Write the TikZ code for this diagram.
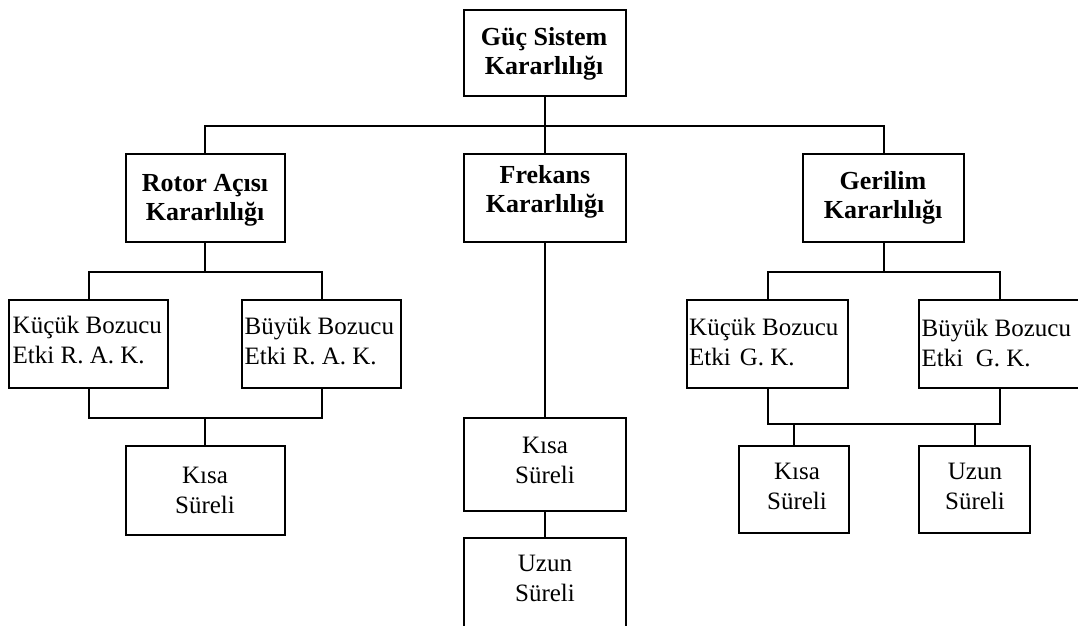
\documentclass[tikz,border=0pt]{standalone}
\usepackage{fontspec}
\setmainfont{Liberation Serif}
\begin{document}
\begin{tikzpicture}[x=1pt,y=-1pt,
  box/.style={draw, rectangle, inner sep=0pt, line width=2pt},
  bt/.style={font=\bfseries\fontsize{26}{29}\selectfont, align=center, inner sep=0pt},
  rt/.style={font=\fontsize{25}{30}\selectfont, align=center, inner sep=0pt},
  lt/.style={font=\fontsize{25}{30}\selectfont, align=left, inner sep=0pt, anchor=west},
  conn/.style={line width=2pt, line join=miter}]
\useasboundingbox (0,0) rectangle (1078,625);
\fill[white] (0,0) rectangle (1078,625);
\clip (0,0) rectangle (1078,625);

% boxes
\node[box, minimum width=162pt, minimum height=86pt] (g)   at (545,53) {};
\node[box, minimum width=159pt, minimum height=88pt] (r)   at (205.3,198) {};
\node[box, minimum width=162pt, minimum height=88pt] (f)   at (545,198) {};
\node[box, minimum width=161pt, minimum height=88pt] (gr)  at (883.5,198) {};
\node[box, minimum width=159pt, minimum height=88pt] (k1)  at (88.5,344) {};
\node[box, minimum width=159pt, minimum height=88pt] (b1)  at (321.7,344) {};
\node[box, minimum width=159pt, minimum height=89pt] (ks1) at (205.3,490.5) {};
\node[box, minimum width=162pt, minimum height=93pt] (ks2) at (545,464.5) {};
\node[box, minimum width=162pt, minimum height=92pt] (uz2) at (545,584) {};
\node[box, minimum width=161pt, minimum height=88pt] (k2)  at (767.5,344) {};
\node[box, minimum width=162pt, minimum height=88pt] (b2)  at (1000,344) {};
\node[box, minimum width=110pt, minimum height=87pt] (ksg) at (794,489.5) {};
\node[box, minimum width=111pt, minimum height=87pt] (uzg) at (974.5,489.5) {};

% texts
\node[bt] (gt)   at (544,54)    {Güç Sistem\\Kararlılığı};
\node[bt] (rtx)  at (205,200.5) {Rotor Açısı\\Kararlılığı};
\node[bt] (ft)   at (545,191.5) {Frekans\\Kararlılığı};
\node[bt] (grt)  at (883,197.5) {Gerilim\\Kararlılığı};
\node[lt] (k1t)  at (12.5,340)  {Küçük Bozucu\\Etki R. A. K.};
\node[lt] (b1t)  at (244.5,341) {Büyük Bozucu\\Etki R. A. K.};
\node[rt] (ks1t) at (205,490)   {Kısa\\Süreli};
\node[rt] (ks2t) at (545,460)   {Kısa\\Süreli};
\node[rt] (uz2t) at (545,578.5) {Uzun\\Süreli};
\node[lt] (k2t)  at (689,341.5) {Küçük Bozucu\\Etki\hspace{9pt}G. K.};
\node[lt] (b2t)  at (921.5,342.5) {Büyük Bozucu\\Etki\ \ G. K.};
\node[rt] (ksgt) at (797,486.5) {Kısa\\Süreli};
\node[rt] (uzgt) at (975,486.5) {Uzun\\Süreli};

% bus coordinates
\coordinate (bus0) at (544.5,126);
\coordinate (busr) at (205.3,272);
\coordinate (busr2) at (205.3,418);
\coordinate (busg) at (883.5,272);
\coordinate (busg2) at (883.5,424);

% connectors
\draw[conn] (g.south) -- (f.north);
\draw[conn] (r.north) |- (bus0) -| (gr.north);
\draw[conn] (r.south) -- (busr);
\draw[conn] (k1.north) |- (busr) -| (b1.north);
\draw[conn] (k1.south) |- (busr2) -| (b1.south);
\draw[conn] (busr2) -- (ks1.north);
\draw[conn] (f.south) -- (ks2.north);
\draw[conn] (ks2.south) -- (uz2.north);
\draw[conn] (gr.south) -- (busg);
\draw[conn] (k2.north) |- (busg) -| (b2.north);
\draw[conn] (k2.south) |- (busg2) -| (b2.south);
\draw[conn] (ksg.north) -- (ksg.north |- busg2);
\draw[conn] (uzg.north) -- (uzg.north |- busg2);
\end{tikzpicture}
\end{document}
